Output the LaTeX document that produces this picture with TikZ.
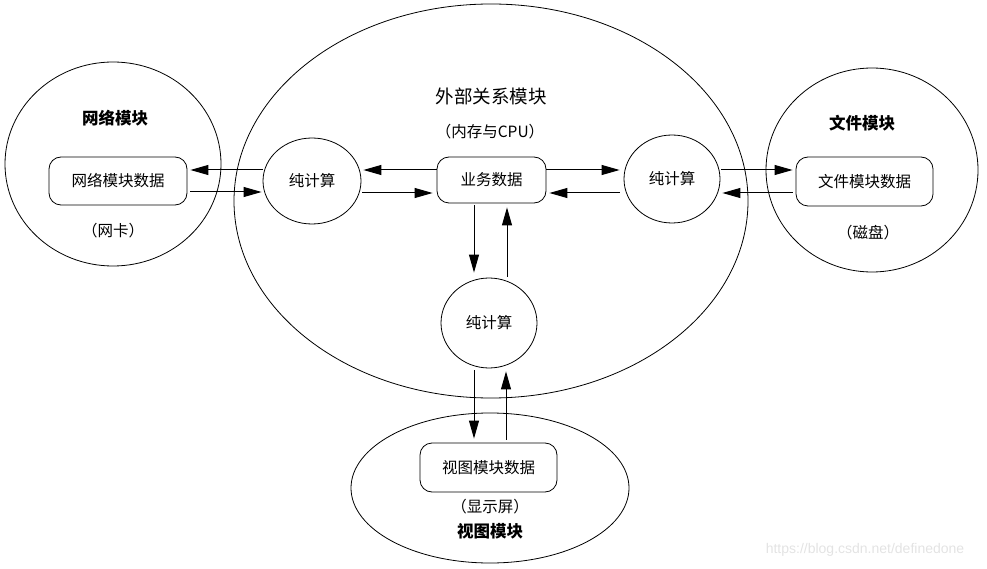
\documentclass[tikz,border=0pt]{standalone}
\usepackage{fontspec}
\newfontfamily\cjk{Noto Sans CJK SC}
\newfontfamily\wmfont{Liberation Sans}
\usetikzlibrary{shapes.geometric,arrows.meta}
\begin{document}
\begin{tikzpicture}[x=1pt,y=-1pt,
  modul/.style={draw, ellipse, line width=0.8pt, inner sep=0pt},
  calc/.style={draw, ellipse, line width=0.8pt, inner sep=0pt, font=\cjk\fontsize{15.5}{16}\selectfont},
  databox/.style={draw, rounded corners=12pt, line width=0.8pt, inner sep=0pt, font=\cjk\fontsize{15.5}{16}\selectfont},
  arr/.style={-{Triangle[length=18pt,width=10pt]}, line width=1pt},
  title/.style={font=\cjk\bfseries\fontsize{16.5}{17}\selectfont},
  note/.style={font=\cjk\fontsize{15.5}{16}\selectfont}]
\useasboundingbox (0,0) rectangle (987,569);
% module ellipses
\node[modul, minimum width=216pt, minimum height=204pt] (net) at (113,164) {};
\node[modul, minimum width=514pt, minimum height=394pt] (ext) at (491,201) {};
\node[modul, minimum width=212pt, minimum height=204pt] (file) at (872,170) {};
\node[modul, minimum width=278pt, minimum height=150pt] (view) at (490,488) {};
% titles and notes
\node[title] (netT) at (115,118) {网络模块};
\node[font=\cjk\fontsize{18.5}{19}\selectfont] (extT) at (491,96) {外部关系模块};
\node[note] (extN) at (490,132) {（内存与CPU）};
\node[title] (fileT) at (862,123) {文件模块};
\node[note] (fileN) at (868,233) {（磁盘）};
\node[note] (netN) at (113,231) {（网卡）};
\node[note] (viewN) at (490,507) {（显示屏）};
\node[title] (viewT) at (490,531) {视图模块};
% data boxes
\node[databox, minimum width=138pt, minimum height=48pt] (netbox) at (118,181) {网络模块数据};
\node[databox, minimum width=109pt, minimum height=46pt] (biz) at (491.5,180) {业务数据};
\node[databox, minimum width=137pt, minimum height=49pt] (filebox) at (864.5,181.5) {文件模块数据};
\node[databox, minimum width=137pt, minimum height=49pt] (viewbox) at (488.5,467.5) {视图模块数据};
% compute circles
\node[calc, minimum width=98pt, minimum height=86pt] (calcL) at (312,181) {纯计算};
\node[calc, minimum width=96pt, minimum height=88pt] (calcR) at (672,179) {纯计算};
\node[calc, minimum width=96pt, minimum height=90pt] (calcB) at (489,323) {纯计算};
% horizontal connectors
\draw[arr, shorten >=3pt] (calcL.west |- 0,170) -- (netbox.east |- 0,170);
\draw[arr, shorten <=3pt, shorten >=1pt] (netbox.east |- 0,192) -- (calcL.west |- 0,192);
\draw[arr, shorten >=2pt] (biz.west |- 0,170) -- (calcL.east |- 0,170);
\draw[arr, shorten <=1pt, shorten >=4pt] (calcL.east |- 0,193) -- (biz.west |- 0,193);
\draw[arr, shorten >=4pt] (biz.east |- 0,170) -- (calcR.west |- 0,170);
\draw[arr, shorten <=4pt, shorten >=3pt] (calcR.west |- 0,193) -- (biz.east |- 0,193);
\draw[arr, shorten <=1pt, shorten >=3pt] (calcR.east |- 0,170) -- (filebox.west |- 0,170);
\draw[arr, shorten <=3pt, shorten >=2pt] (filebox.west |- 0,193) -- (calcR.east |- 0,193);
% vertical connectors
\draw[arr, shorten <=2pt, shorten >=5pt] (biz.south -| 474,0) -- (calcB.north -| 474,0);
\draw[arr, shorten <=1pt, shorten >=4pt] (calcB.north -| 507,0) -- (biz.south -| 507,0);
\draw[arr, shorten <=2pt, shorten >=4pt] (calcB.south -| 474,0) -- (viewbox.north -| 474,0);
\draw[arr, shorten <=3pt, shorten >=3pt] (viewbox.north -| 506,0) -- (calcB.south -| 506,0);
% watermark
\node[font=\wmfont\fontsize{14}{14}\selectfont, text=black!11] (wm) at (865,550) {https://blog.csdn.net/definedone};
\end{tikzpicture}
\end{document}
